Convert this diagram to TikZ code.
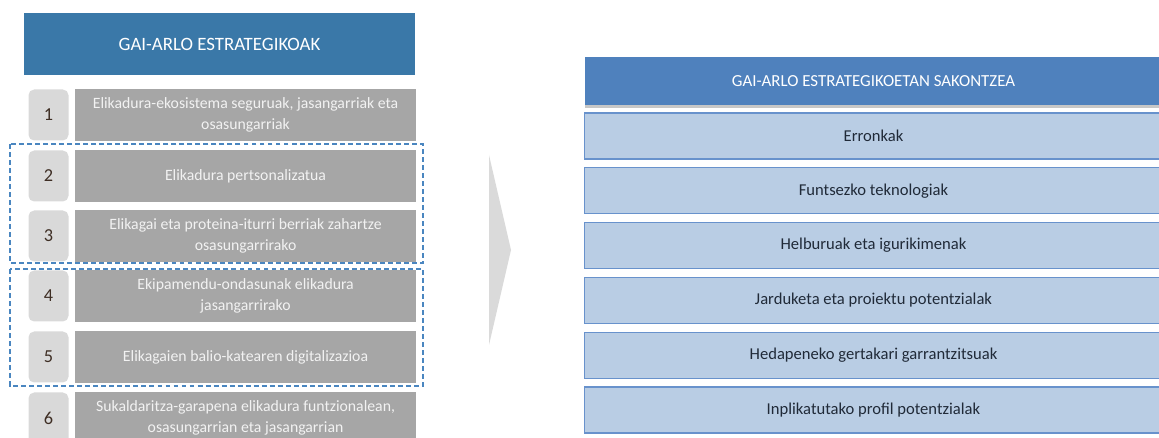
\documentclass[tikz,border=0pt]{standalone}
\usepackage{fontspec}
\setmainfont{Carlito}
\usetikzlibrary{positioning}
\definecolor{headL}{RGB}{58,120,168}
\definecolor{headR}{RGB}{79,129,189}
\definecolor{numgray}{RGB}{217,217,217}
\definecolor{itemgray}{RGB}{166,166,166}
\definecolor{arrowgray}{RGB}{218,218,218}
\definecolor{dashblue}{RGB}{74,134,192}
\definecolor{rowfill}{RGB}{185,205,228}
\definecolor{rowline}{RGB}{104,146,204}
\definecolor{rowtext}{RGB}{32,42,56}
\definecolor{numtext}{RGB}{62,46,36}
\tikzset{
  numbox/.style={fill=numgray,rounded corners=4pt,inner sep=0pt,
    minimum width=40*0.025cm,minimum height=51*0.025cm,
    text=numtext,font=\fontsize{13}{15}\selectfont},
  itembox/.style={fill=itemgray,inner sep=0pt,align=center,
    minimum width=341*0.025cm,minimum height=52*0.025cm,
    text=white!95!black,font=\fontsize{11.2}{14.5}\selectfont},
  rowbox/.style={fill=rowfill,draw=rowline,line width=0.8pt,inner sep=0pt,
    minimum width=578*0.025cm,minimum height=46*0.025cm,
    text=rowtext,font=\fontsize{11.8}{14}\selectfont},
  group/.style={draw=dashblue,line width=0.9pt,dash pattern=on 3.5pt off 2.2pt}
}
\begin{document}
\begin{tikzpicture}[x=0.025cm,y=-0.025cm]
\useasboundingbox (0,0) rectangle (1159,438);
% left column
\node[fill=headL,text=white,inner sep=0pt,minimum width=391*0.025cm,
  minimum height=62*0.025cm,font=\fontsize{13.4}{15}\selectfont]
  (h1) at (219.5,44) {GAI-ARLO ESTRATEGIKOAK};
\foreach \i/\yc/\txt in {
  1/115/{Elikadura-ekosistema seguruak, jasangarriak eta\\osasungarriak},
  2/176/{Elikadura pertsonalizatua},
  3/236/{Elikagai eta proteina-iturri berriak zahartze\\osasungarrirako},
  4/296/{Ekipamendu-ondasunak elikadura\\jasangarrirako},
  5/357/{Elikagaien balio-katearen digitalizazioa},
  6/418/{Sukaldaritza-garapena elikadura funtzionalean,\\osasungarrian eta jasangarrian}}{
  \node[numbox] (n\i) at (48.5,\yc) {\i};
  \node[itembox,right=6*0.025cm of n\i] (t\i) {\txt};
}
\draw[group] (10,144) rectangle (423,263);
\draw[group] (10,269) rectangle (423,386);
% arrow
\fill[arrowgray] (489,155) -- (511,250) -- (489,345) -- cycle;
% right column
\fill[black!22] (585,103) rectangle (1162,108);
\node[fill=headR,text=white,inner sep=0pt,minimum width=578*0.025cm,
  minimum height=48*0.025cm,font=\fontsize{12}{14}\selectfont]
  (h2) at (873.5,81) {GAI-ARLO ESTRATEGIKOETAN SAKONTZEA};
\foreach \i/\txt in {1/Erronkak,2/Funtsezko teknologiak,3/Helburuak eta igurikimenak,
  4/Jarduketa eta proiektu potentzialak,5/Hedapeneko gertakari garrantzitsuak,
  6/Inplikatutako profil potentzialak}{
  \node[rowbox] (r\i) at (873.5,{136+54.8*(\i-1)}) {\txt};
}
\end{tikzpicture}
\end{document}
